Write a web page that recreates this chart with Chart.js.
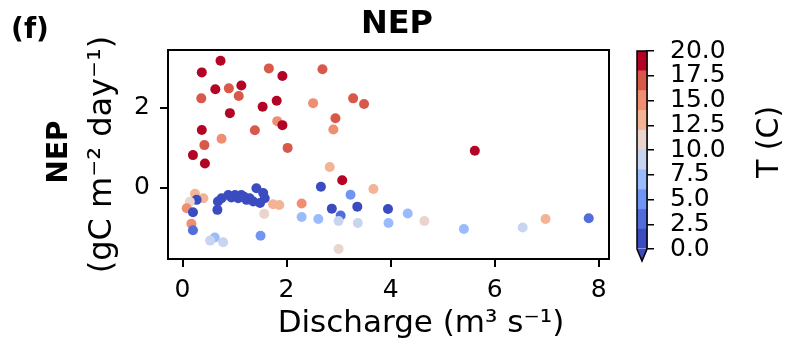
<!DOCTYPE html>
<html>
<head>
<meta charset="utf-8">
<script src="https://cdn.jsdelivr.net/npm/chart.js@4.4.0/dist/chart.umd.min.js"></script>
<style>
  html, body { margin: 0; padding: 0; background: #fff; }
  #wrap { position: relative; width: 791px; height: 342px; }
  #wrap canvas { position: absolute; left: 0; top: 0; }
</style>
</head>
<body>
<div id="wrap">
  <canvas id="grafico" width="791" height="342"></canvas>
  <canvas id="barra" width="791" height="342"></canvas>
</div>
<script>
// vazao (m3/s), NEP (gC m-2 dia-1) e temperatura (C) de cada ponto
const vazao = [0.73, 0.37, 1.66, 1.92, 2.69, 0.63, 0.89, 1.13, 0.36, 1.08,
  1.81, 1.54, 2.51, 3.28, 3.49, 0.91, 2.94, 1.82, 1.92, 0.37,
  1.39, 2.90, 0.75, 0.42, 2.02, 0.20, 0.43, 2.83, 3.07, 5.62,
  2.66, 3.67, 3.23, 3.36, 2.87, 3.04, 3.00, 3.37, 3.95, 3.96,
  2.29, 2.29, 2.61, 3.00, 1.74, 1.86, 1.57, 1.50, 0.62, 0.53,
  0.78, 4.33, 4.65, 5.41, 6.54, 6.98, 7.81, 0.24, 0.40, 0.27,
  0.14, 0.08, 0.20, 0.17, 0.20, 0.68, 0.67, 0.75, 0.88, 1.01,
  1.13, 1.07, 1.23, 1.29, 1.36, 1.42, 1.55, 1.58, 1.49, 0.94, 1.18];
const nep = [3.18, 2.89, 2.99, 2.80, 2.97, 2.47, 2.49, 2.56, 2.24, 2.30,
  2.18, 2.03, 2.12, 2.24, 2.10, 1.87, 1.74, 1.67, 1.57, 1.45,
  1.44, 1.46, 1.23, 1.07, 1.00, 0.82, 0.61, 0.52, 0.19, 0.93,
  0.03, -0.03, -0.17, -0.47, -0.52, -0.69, -0.83, -0.88, -0.53, -0.88,
  -0.39, -0.73, -0.78, -1.53, -0.41, -0.43, -0.65, -1.20, -1.24, -1.32,
  -1.36, -0.64, -0.83, -1.03, -0.99, -0.78, -0.76, -0.15, -0.26, -0.30,
  -0.35, -0.51, -0.61, -0.90, -1.06, -0.34, -0.55, -0.26, -0.18, -0.18,
  -0.18, -0.26, -0.30, -0.26, -0.34, -0.01, -0.13, -0.26, -0.38, -0.24, -0.22];
const temperatura = [19, 19, 17, 19, 17, 19, 17, 19, 17, 17,
  19, 19, 15, 17, 17, 19, 17, 15, 19, 19,
  17, 15, 15, 17, 17, 19, 19, 13, 19, 19,
  1, 13, 5, 1, 1, 3, 9, 9, 1, 7,
  15, 7, 7, 11, 13, 13, 11, 5, 7, 9,
  9, 7, 11, 6, 9, 13, 3, 13, 13, 1,
  11, 15, 1, 15, 3, 1, 1, 1, 1, 1,
  1, 1, 1, 1, 1, 1, 1, 1, 1, 1, 1];

const ticksX = [0, 2, 4, 6, 8];
const ticksY = [0, 2];
const ticksT = [0, 2.5, 5, 7.5, 10, 12.5, 15, 17.5, 20];
const niveisT = [0, 2, 4, 6, 8, 10, 12, 14, 16, 18, 20];
const coresNivel = ['#3b4cc0', '#526cda', '#7195f3', '#9abbfe', '#c8d5f0',
  '#e9d5cb', '#f5b396', '#ef8e71', '#d8584a', '#b40426'];

const fonte = 'DejaVu Sans';

function corDaTemperatura(t) {
  for (let i = 0; i < coresNivel.length; i++) {
    if (t < niveisT[i + 1]) return coresNivel[i];
  }
  return coresNivel[coresNivel.length - 1];
}

function texto(ctx, s, x, y, tam, negrito, rot) {
  ctx.save();
  ctx.translate(x, y);
  if (rot) ctx.rotate(rot);
  ctx.font = (negrito ? 'bold ' : '') + tam + 'px "' + fonte + '"';
  ctx.fillStyle = '#000';
  ctx.textAlign = 'center';
  ctx.textBaseline = 'middle';
  ctx.fillText(s, 0, 0);
  ctx.restore();
}

const moldura = {
  id: 'moldura',
  afterDraw(chart) {
    const a = chart.chartArea;
    const ctx = chart.ctx;
    ctx.save();
    ctx.strokeStyle = '#000';
    ctx.lineWidth = 2;
    ctx.strokeRect(a.left, a.top, a.right - a.left, a.bottom - a.top);
    ctx.restore();
    texto(ctx, '(f)', 30, 31, 28, true);
    texto(ctx, 'NEP', 397, 25, 32, true);
    texto(ctx, 'NEP', 60, 152, 28, true, -Math.PI / 2);
    texto(ctx, 'Discharge (m³ s⁻¹)', 421, 324, 31, false);
  }
};

new Chart(document.getElementById('grafico'), {
  type: 'scatter',
  data: {
    datasets: [{
      data: vazao.map((x, i) => ({ x: x, y: nep[i] })),
      pointBackgroundColor: temperatura.map(corDaTemperatura),
      pointBorderWidth: 0,
      pointRadius: 5
    }]
  },
  options: {
    responsive: false,
    animation: false,
    devicePixelRatio: 1,
    layout: { padding: { left: 0, right: 182, top: 50, bottom: 0 } },
    plugins: { legend: { display: false }, tooltip: { enabled: false } },
    scales: {
      x: {
        type: 'linear', min: -0.28, max: 8.2,
        afterBuildTicks: s => { s.ticks = ticksX.map(v => ({ value: v })); },
        afterFit: s => { s.height = 83; },
        grid: { drawOnChartArea: false, tickLength: 8, color: '#000', lineWidth: 2 },
        border: { display: true, color: '#000', width: 2 },
        ticks: { color: '#000', padding: 8, font: { family: fonte, size: 25 } }
      },
      y: {
        type: 'linear', min: -1.78, max: 3.45,
        afterBuildTicks: s => { s.ticks = ticksY.map(v => ({ value: v })); },
        afterFit: s => { s.width = 168; },
        grid: { drawOnChartArea: false, tickLength: 8, color: '#000', lineWidth: 2 },
        border: { display: true, color: '#000', width: 2 },
        ticks: { color: '#000', padding: 10, font: { family: fonte, size: 25 } },
        title: {
          display: true, text: '(gC m⁻² day⁻¹)', color: '#000',
          font: { family: fonte, size: 32 }, padding: { top: 83, bottom: 0 }
        }
      }
    }
  },
  plugins: [moldura]
});

const extensao = {
  id: 'extensao',
  afterDraw(chart) {
    const a = chart.chartArea;
    const ctx = chart.ctx;
    const meio = (a.left + a.right) / 2;
    ctx.save();
    ctx.beginPath();
    ctx.moveTo(a.left, a.bottom);
    ctx.lineTo(a.right, a.bottom);
    ctx.lineTo(meio, a.bottom + 12);
    ctx.closePath();
    ctx.fillStyle = coresNivel[0];
    ctx.fill();
    ctx.beginPath();
    ctx.moveTo(a.left, a.top);
    ctx.lineTo(a.right, a.top);
    ctx.lineTo(a.right, a.bottom);
    ctx.lineTo(meio, a.bottom + 12);
    ctx.lineTo(a.left, a.bottom);
    ctx.closePath();
    ctx.strokeStyle = '#000';
    ctx.lineWidth = 1.5;
    ctx.stroke();
    ctx.restore();
    texto(ctx, 'T (C)', 770, 142, 30, false, -Math.PI / 2);
  }
};

new Chart(document.getElementById('barra'), {
  type: 'bar',
  data: {
    labels: [''],
    datasets: coresNivel.map((c, i) => ({
      data: [niveisT[i + 1] - niveisT[i]],
      backgroundColor: c,
      borderWidth: 0,
      barPercentage: 1,
      categoryPercentage: 1
    }))
  },
  options: {
    responsive: false,
    animation: false,
    devicePixelRatio: 1,
    layout: { padding: { left: 637, right: 12, top: 51, bottom: 93 } },
    plugins: { legend: { display: false }, tooltip: { enabled: false } },
    scales: {
      x: { display: false, stacked: true },
      y: {
        position: 'right', stacked: true, min: 0, max: 20,
        afterBuildTicks: s => { s.ticks = ticksT.map(v => ({ value: v })); },
        afterFit: s => { s.width = 132; },
        grid: { drawOnChartArea: false, tickLength: 7, color: '#000', lineWidth: 1.5 },
        border: { display: true, color: '#000', width: 1.5 },
        ticks: {
          color: '#000', padding: 16, autoSkip: false, font: { family: fonte, size: 25 },
          callback: v => v.toFixed(1)
        }
      }
    }
  },
  plugins: [extensao]
});
</script>
</body>
</html>
